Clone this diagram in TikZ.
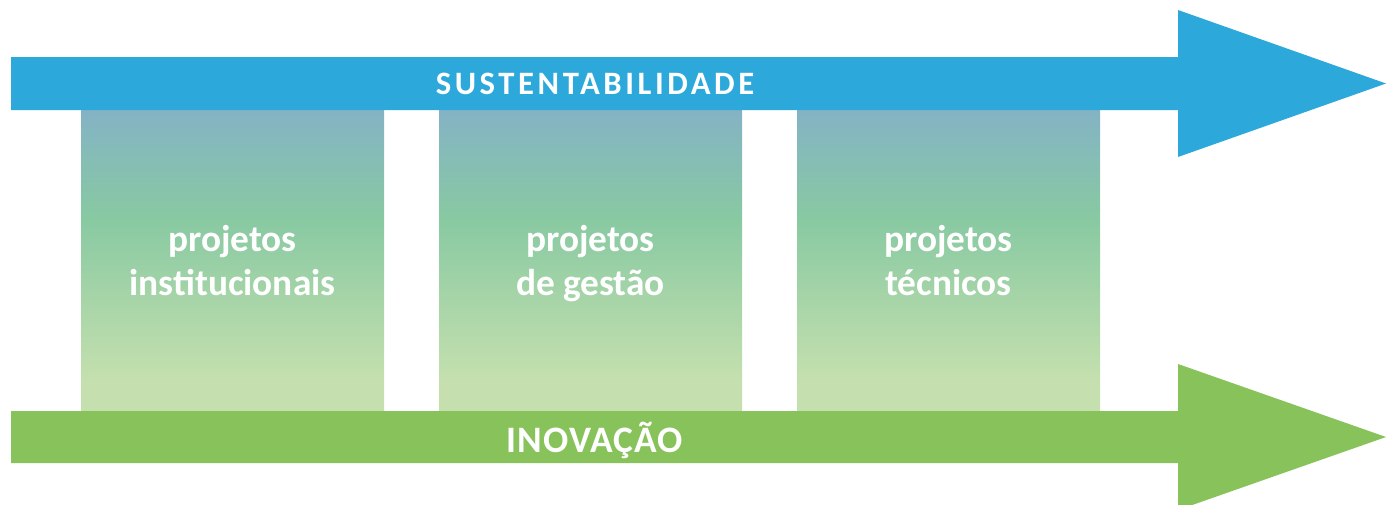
\documentclass[tikz,border=0pt]{standalone}
\usepackage{fontspec}
\setmainfont{Carlito}
\usetikzlibrary{positioning}
\definecolor{sustblue}{HTML}{2CA9DA}
\definecolor{inovgreen}{HTML}{88C25A}
\definecolor{fadetop}{HTML}{84B3C5}
\definecolor{fademid}{HTML}{88C9A2}
\definecolor{fadelow}{HTML}{C5E0AE}
% box fill: pale green at the bottom, green, bluish at the top
\pgfdeclareverticalshading{boxfade}{100bp}{color(0bp)=(fadelow); color(30bp)=(fadelow);
    color(57bp)=(fademid); color(75bp)=(fadetop); color(100bp)=(fadetop)}
\tikzset{
    projbox/.style={ % the three project columns
        shading=boxfade,
        minimum width=227.25pt,
        minimum height=225.75pt,
        inner sep=0pt, outer sep=0pt
    },
    boxtext/.style={ % white labels inside the columns
        text=white, align=center,
        font=\bfseries\fontsize{28}{33}\selectfont
    },
    bandtext/.style 2 args={ % labels on the two arrows: size, letter spacing
        text=white, inner sep=0pt,
        font=\bfseries\fontsize{#1}{#1}\selectfont\addfontfeatures{LetterSpace=#2}
    }
}

\begin{document}
\begin{tikzpicture}[x=0.75pt, y=-0.75pt]
    \clip (0,0) rectangle (1386,504);

    \node[projbox] (inst) at (232.5,260.5) {};
    \node[projbox, right=41.25pt of inst] (gest) {};
    \node[projbox, right=41.25pt of gest] (tecn) {};

    \fill[sustblue] (11,57) -- (1178,57) -- (1178,10) -- (1386,83.5)
        -- (1178,157) -- (1178,110) -- (11,110) -- cycle;
    \fill[inovgreen] (11,411) -- (1178,411) -- (1178,364) -- (1386,437)
        -- (1178,510) -- (1178,463) -- (11,463) -- cycle;

    \node[bandtext={24.5}{11}, anchor=base] (sust) at (595,94) {SUSTENTABILIDADE};
    \node[bandtext={28}{3}, anchor=base] (inov) at (595,452) {INOVAÇÃO};

    \node[boxtext, anchor=base, yshift=-26.6pt] (instlbl) at (inst) {projetos\\institucionais};
    \node[boxtext, anchor=base, yshift=-26.6pt] (gestlbl) at (gest) {projetos\\de gestão};
    \node[boxtext, anchor=base, yshift=-26.6pt] (tecnlbl) at (tecn) {projetos\\técnicos};
\end{tikzpicture}
\end{document}
